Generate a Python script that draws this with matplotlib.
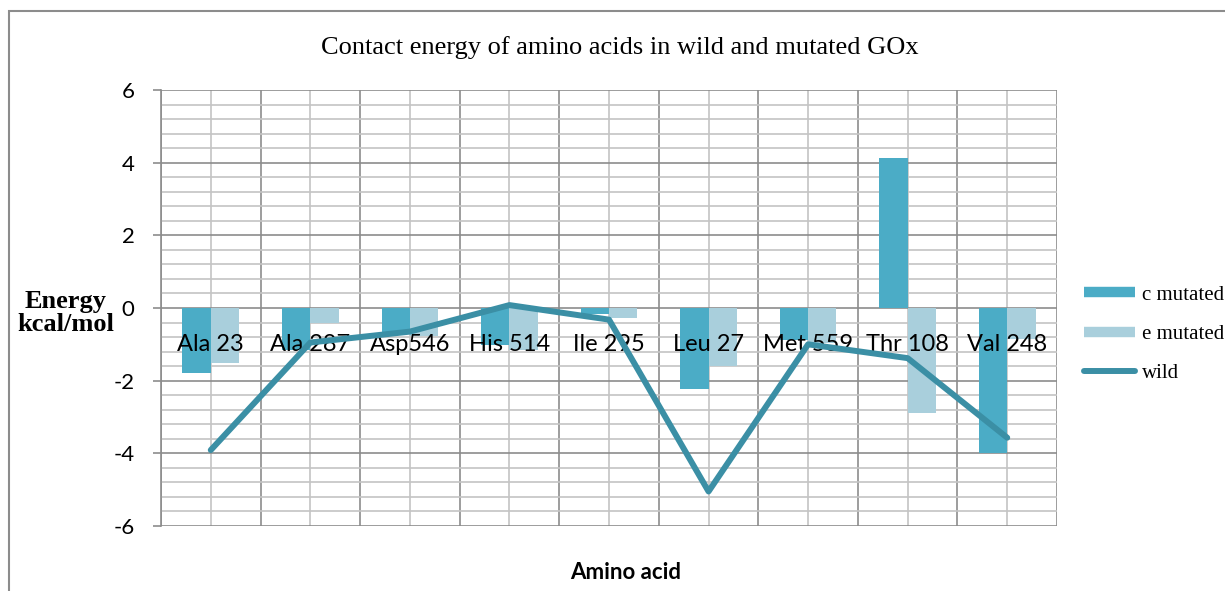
import matplotlib
matplotlib.use("Agg")
import matplotlib.pyplot as plt
from matplotlib.lines import Line2D
from matplotlib.patches import Rectangle
from matplotlib.ticker import MultipleLocator, FixedLocator, NullFormatter
import numpy as np

# contact energies (kcal/mol) per residue
residues = ["Ala 23", "Ala 287", "Asp546", "His 514", "Ile 295",
            "Leu 27", "Met 559", "Thr 108", "Val 248"]
c_mutated = [-1.80, -1.16, -0.72, -1.02, -0.17, -2.22, -0.87, 4.12, -4.00]
e_mutated = [-1.51, -0.40, -0.76, -1.16, -0.28, -1.61, -0.95, -2.88, -0.86]
wild = [-3.91, -0.95, -0.65, 0.08, -0.32, -5.05, -1.00, -1.38, -3.57]

C_DARK = "#4BACC6"
C_LIGHT = "#A9CFDC"
C_LINE = "#3B8FA5"
SANS = "Lato"
SERIF = "Liberation Serif"

plt.rcParams["axes.unicode_minus"] = False

fig = plt.figure(figsize=(12.25, 5.91), dpi=100)
ax = fig.add_axes([161 / 1225, 1 - 526 / 591, 896 / 1225, 436 / 591])

x = np.arange(len(residues))
w = 0.285
ax.bar(x - w / 2, c_mutated, width=w, color=C_DARK, zorder=2)
ax.bar(x + w / 2, e_mutated, width=w, color=C_LIGHT, zorder=2)
ax.plot(x, wild, color=C_LINE, lw=4.3, solid_joinstyle="round",
        solid_capstyle="round", zorder=4)

ax.set_xlim(-0.5, len(residues) - 0.5)
ax.set_ylim(-6, 6)

# grid: dark lines at category edges / every 2 units, light ones in between
ax.xaxis.set_major_locator(FixedLocator(np.arange(-0.5, len(residues), 1.0)))
ax.xaxis.set_minor_locator(FixedLocator(x))
ax.xaxis.set_major_formatter(NullFormatter())
ax.yaxis.set_major_locator(MultipleLocator(2))
ax.yaxis.set_minor_locator(MultipleLocator(0.4))
ax.grid(which="major", color="#8C8C8C", lw=1.2, zorder=0)
ax.grid(which="minor", color="#C4C4C4", lw=1.2, zorder=0)
ax.set_axisbelow(True)
ax.tick_params(axis="x", which="both", length=0)
ax.tick_params(axis="y", which="minor", length=0)
ax.tick_params(axis="y", which="major", length=6, width=1.2, color="#8C8C8C",
               pad=13, labelsize=16)
for lab in ax.get_yticklabels():
    lab.set_fontfamily(SANS)
for side in ["top", "right", "bottom"]:
    ax.spines[side].set_visible(False)
ax.spines["left"].set_color("#8C8C8C")
ax.spines["left"].set_linewidth(1.2)

# category names sit just under the zero line, over the bars
sec = ax.secondary_xaxis(0.5)
sec.set_zorder(3)
sec.set_xticks(x, residues)
sec.tick_params(length=0, pad=19, labelsize=17, labelbottom=True,
                labeltop=False, bottom=True, top=False)
for lab in sec.get_xticklabels():
    lab.set_fontfamily(SANS)
for sp in sec.spines.values():
    sp.set_visible(False)

ax.set_ylabel("Energy\nkcal/mol", rotation=0, ha="center", va="center",
              fontfamily=SERIF, fontweight="bold", fontsize=19, linespacing=1.05)
ax.yaxis.set_label_coords(-0.106, 0.4885)
ax.set_xlabel("Amino acid", fontfamily=SANS, fontweight="bold", fontsize=16)
ax.xaxis.set_label_coords(0.519, -0.083)

fig.text(620 / 1225, 1 - 48 / 591,
         "Contact energy of amino acids in wild and mutated GOx",
         ha="center", va="center", fontfamily=SERIF, fontsize=19)

handles = [
    Line2D([], [], color=C_DARK, lw=7.5, solid_capstyle="butt"),
    Line2D([], [], color=C_LIGHT, lw=7.5, solid_capstyle="butt"),
    Line2D([], [], color=C_LINE, lw=4.3, solid_capstyle="round"),
]
fig.legend(handles, ["c mutated", "e mutated", "wild"],
           loc="upper left", bbox_to_anchor=(1084 / 1225, 1 - 285 / 591),
           frameon=False, borderpad=0, borderaxespad=0,
           handlelength=2.45, handletextpad=0.33, labelspacing=0.95,
           prop={"family": SERIF, "size": 15})

# chart-area border
fig.patches.append(Rectangle((9 / 1225, -0.1), 1.2, 1 - 11 / 591 + 0.1,
                             transform=fig.transFigure, fill=False,
                             edgecolor="#8C8C8C", lw=1.5))

fig.savefig("out.png", dpi=100)
